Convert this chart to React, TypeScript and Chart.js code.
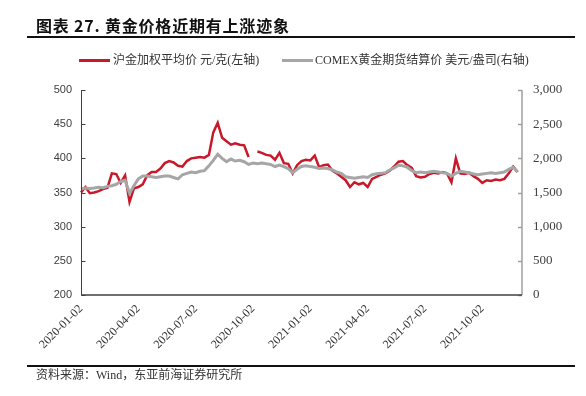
import React, { useEffect, useRef } from 'react';
import { Chart, registerables } from 'chart.js';

Chart.register(...registerables);

// X-axis tick labels (quarterly) and the category index where each one sits
const quarterLabels = ['2020-01-02', '2020-04-02', '2020-07-02', '2020-10-02', '2021-01-02', '2021-04-02', '2021-07-02', '2021-10-02'];
const quarterPositions = [0, 13, 26, 39, 52, 65, 78, 91];
const categoryCount = 101;

// 沪金加权平均价 元/克 (left axis), roughly weekly samples
const shGold = [
  350, 358, 349, 350, 352, 355, 357, 378, 377, 364,
  375, 336, 356, 358, 362, 375, 380, 380, 385, 393,
  396, 394, 389, 388, 396, 400, 401, 402, 401, 405,
  438, 452, 430, 425, 420, 422, 420, 419, 402, null,
  410, 408, 405, 404, 398, 408, 393, 392, 378, 390,
  396, 398, 397, 404, 387, 390, 391, 382, 378, 373,
  368, 358, 365, 362, 364, 358, 370, 373, 376, 378,
  382, 388, 395, 396, 390, 386, 374, 372, 373, 377,
  379, 378, 380, 378, 365, 400, 378, 377, 379, 374,
  370, 364, 368, 367, 369, 368, 370, 378, 388, 380,
];

// COMEX黄金期货结算价 美元/盎司 (right axis)
const comexGold = [
  1550, 1565, 1560, 1565, 1575, 1570, 1590, 1600, 1620, 1660,
  1680, 1490, 1600, 1700, 1740, 1740, 1730, 1720, 1730, 1740,
  1740, 1720, 1700, 1760, 1780, 1800, 1790, 1810, 1820, 1890,
  1970, 2060, 2000, 1950, 1990, 1960, 1970, 1950, 1910, 1930,
  1920, 1930, 1920, 1910, 1880, 1900, 1880, 1850, 1790, 1840,
  1880, 1890, 1880, 1870, 1850, 1860, 1850, 1830, 1800, 1780,
  1730, 1720, 1710, 1720, 1730, 1720, 1760, 1775, 1780, 1790,
  1830, 1860, 1900, 1890, 1870, 1820, 1790, 1800, 1790, 1800,
  1810, 1800, 1790, 1780, 1740, 1780, 1810, 1800, 1790, 1770,
  1760, 1770, 1780, 1790, 1780, 1790, 1800, 1840, 1870, 1800,
];

const leftRange = [200, 500];
const leftStep = 50;
const rightRange = [0, 3000];
const rightStep = 500;

const seriesNames = ['沪金加权平均价 元/克(左轴)', 'COMEX黄金期货结算价 美元/盎司(右轴)'];
const RED = '#C8192B';
const GRAY = '#A6A6A6';

const categories: string[] = [];
for (let i = 0; i < categoryCount; i++) {
  const q = quarterPositions.indexOf(i);
  categories.push(q >= 0 ? quarterLabels[q] : '');
}

const axisPlugin = {
  id: 'axisLines',
  afterDraw(chart: any) {
    const { ctx, chartArea: a, scales } = chart;
    ctx.save();
    // left axis
    ctx.strokeStyle = '#404040';
    ctx.lineWidth = 1;
    ctx.beginPath();
    const lx = Math.round(a.left) + 0.5;
    ctx.moveTo(lx, a.top);
    ctx.lineTo(lx, a.bottom);
    scales.y.ticks.forEach((t: any) => {
      const y = Math.round(scales.y.getPixelForValue(t.value)) + 0.5;
      ctx.moveTo(lx, y);
      ctx.lineTo(lx + 4, y);
    });
    ctx.stroke();
    // right axis
    ctx.strokeStyle = '#A0A0A0';
    ctx.lineWidth = 1.5;
    ctx.beginPath();
    const rx = Math.round(a.right);
    ctx.moveTo(rx, a.top);
    ctx.lineTo(rx, a.bottom);
    scales.y2.ticks.forEach((t: any) => {
      const y = Math.round(scales.y2.getPixelForValue(t.value)) + 0.5;
      ctx.moveTo(rx, y);
      ctx.lineTo(rx - 4, y);
    });
    ctx.stroke();
    // bottom axis
    ctx.strokeStyle = '#404040';
    ctx.lineWidth = 1.5;
    ctx.beginPath();
    ctx.moveTo(a.left, Math.round(a.bottom));
    ctx.lineTo(a.right, Math.round(a.bottom));
    ctx.stroke();
    ctx.restore();
  },
};

const serifCJK = '"Liberation Serif", "Noto Sans CJK SC", serif';

export default function App() {
  const canvasRef = useRef<HTMLCanvasElement | null>(null);

  useEffect(() => {
    if (!canvasRef.current) return;
    const chart = new Chart(canvasRef.current, {
      type: 'line',
      data: {
        labels: categories,
        datasets: [
          {
            label: seriesNames[0],
            data: shGold,
            borderColor: RED,
            backgroundColor: RED,
            borderWidth: 2.5,
            pointRadius: 0,
            tension: 0,
            spanGaps: false,
            yAxisID: 'y',
            order: 2,
          },
          {
            label: seriesNames[1],
            data: comexGold,
            borderColor: GRAY,
            backgroundColor: GRAY,
            borderWidth: 3,
            pointRadius: 0,
            tension: 0,
            yAxisID: 'y2',
            order: 1,
          },
        ],
      },
      options: {
        animation: false,
        responsive: false,
        maintainAspectRatio: false,
        events: [],
        layout: { padding: { left: 31, right: 14, top: 90, bottom: 41 } },
        plugins: { legend: { display: false }, tooltip: { enabled: false }, title: { display: false } },
        scales: {
          x: {
            type: 'category',
            grid: { display: false, drawTicks: false },
            border: { display: false },
            afterFit: (s: any) => { s.height = 60; },
            ticks: {
              autoSkip: false,
              minRotation: 45,
              maxRotation: 45,
              padding: 7,
              color: '#333',
              font: { family: '"Liberation Serif", serif', size: 12 },
              callback: (_v: any, i: number) => categories[i],
            },
          },
          y: {
            position: 'left',
            min: leftRange[0],
            max: leftRange[1],
            grid: { display: false, drawTicks: false },
            border: { display: false },
            afterFit: (s: any) => { s.width = 50; },
            ticks: {
              stepSize: leftStep,
              padding: 9,
              color: '#404040',
              font: { family: '"Liberation Sans", Arial, sans-serif', size: 11 },
            },
          },
          y2: {
            position: 'right',
            min: rightRange[0],
            max: rightRange[1],
            grid: { display: false, drawTicks: false },
            border: { display: false },
            afterFit: (s: any) => { s.width = 50; },
            ticks: {
              stepSize: rightStep,
              padding: 11,
              color: '#404040',
              font: { family: '"Liberation Serif", serif', size: 13 },
              callback: (v: any) => Number(v).toLocaleString('en-US'),
            },
          },
        },
      },
      plugins: [axisPlugin],
    });
    return () => chart.destroy();
  }, []);

  return (
    <div style={{ position: 'fixed', left: 0, top: 0, width: 586, height: 396, background: '#fff', overflow: 'hidden' }}>
      <canvas ref={canvasRef} width={586} height={396} style={{ position: 'absolute', left: 0, top: 0, width: 586, height: 396 }} />
      <div style={{ position: 'absolute', left: 36, top: 15, fontFamily: '"Noto Sans CJK SC", sans-serif', fontWeight: 700, fontSize: 16, lineHeight: '20px', letterSpacing: 0.8, color: '#111', whiteSpace: 'nowrap' }}>
        图表 27. 黄金价格近期有上涨迹象
      </div>
      <div style={{ position: 'absolute', left: 27, top: 36, width: 548, height: 2, background: '#111' }} />
      <div style={{ position: 'absolute', left: 79, top: 52, height: 16, display: 'flex', alignItems: 'center', fontFamily: serifCJK, fontSize: 12, lineHeight: '16px', color: '#333', whiteSpace: 'nowrap' }}>
        <span style={{ display: 'inline-block', width: 31, height: 3, background: RED, marginRight: 3 }} />
        <span>{seriesNames[0]}</span>
      </div>
      <div style={{ position: 'absolute', left: 282, top: 52, height: 16, display: 'flex', alignItems: 'center', fontFamily: serifCJK, fontSize: 12, lineHeight: '16px', color: '#333', whiteSpace: 'nowrap' }}>
        <span style={{ display: 'inline-block', width: 31, height: 3, background: GRAY, marginRight: 2 }} />
        <span>{seriesNames[1]}</span>
      </div>
      <div style={{ position: 'absolute', left: 27, top: 365, width: 548, height: 2, background: '#111' }} />
      <div style={{ position: 'absolute', left: 36, top: 367, fontFamily: serifCJK, fontSize: 12, lineHeight: '16px', color: '#333', whiteSpace: 'nowrap' }}>
        资料来源：Wind，东亚前海证券研究所
      </div>
    </div>
  );
}
